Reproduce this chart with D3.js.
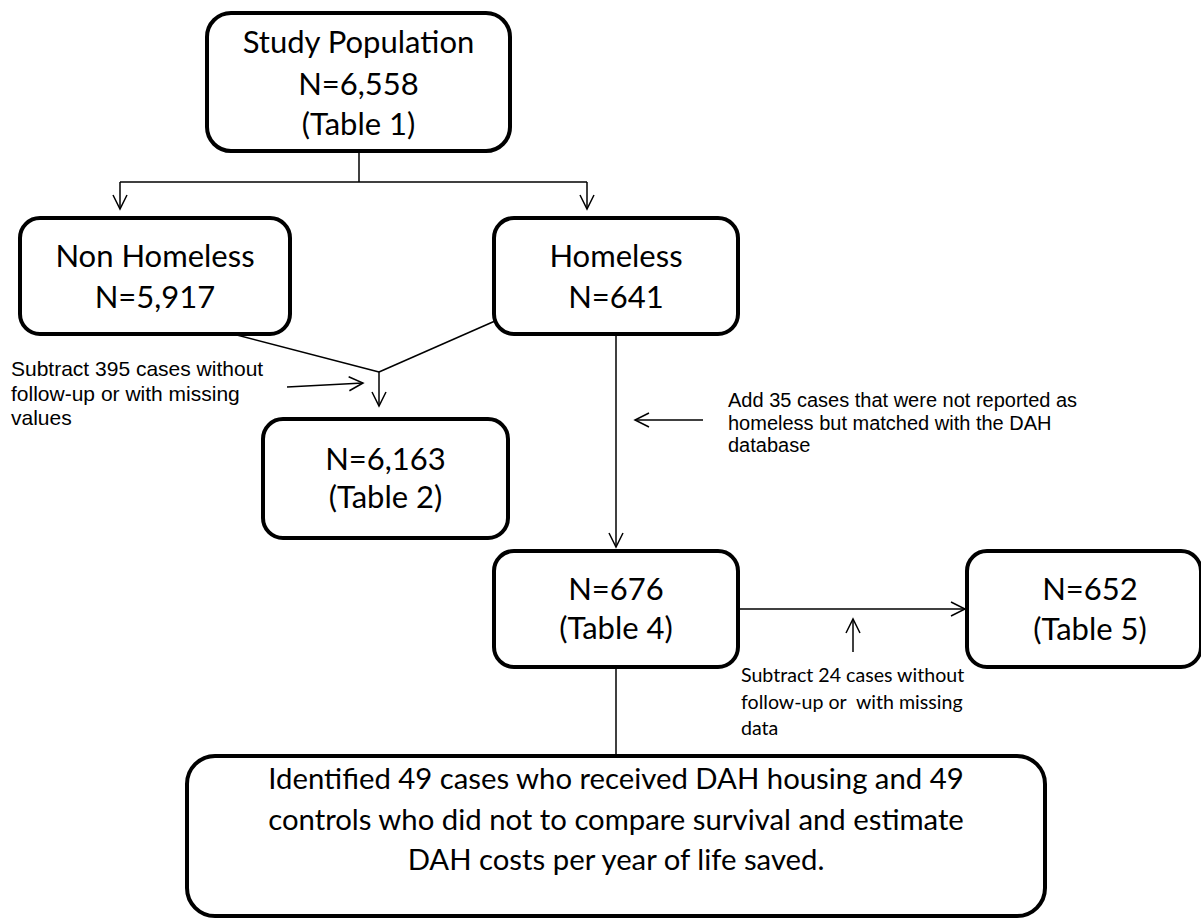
<!DOCTYPE html>
<html lang="en">
<head>
  <meta charset="UTF-8" />
  <title>Study flow chart</title>
  <script src="https://d3js.org/d3.v7.min.js"></script>
  <style>
    body{margin:0;background:#fff}
    svg{display:block}
    .box{fill:#fff;stroke:#000;stroke-width:4}
    .link{fill:none;stroke:#000;stroke-width:1.5}
    .boxtext{font-family:Lato,"Open Sans",sans-serif;fill:#000;text-anchor:middle}
    .note{font-family:"Liberation Sans",Arial,sans-serif;fill:#000;white-space:pre}
    .note2{font-family:Lato,sans-serif;fill:#000;white-space:pre}
  </style>
</head>
<body>
  <div id="chart"></div>
  <script>
    // box labels
    const studyLabel = ["Study Population", "N=6,558", "(Table 1)"];
    const nonHomelessLabel = ["Non Homeless", "N=5,917"];
    const homelessLabel = ["Homeless", "N=641"];
    const table2Label = ["N=6,163", "(Table 2)"];
    const table4Label = ["N=676", "(Table 4)"];
    const table5Label = ["N=652", "(Table 5)"];
    const finalLabel = [
      "Identified 49 cases who received DAH housing and 49",
      "controls who did not to compare survival and estimate",
      "DAH costs per year of life saved."
    ];
    // side notes
    const note395 = ["Subtract 395 cases without", "follow-up or with missing", "values"];
    const note35 = ["Add 35 cases that were not reported as", "homeless but matched with the DAH", "database"];
    const note24 = ["Subtract 24 cases without", "follow-up or  with missing", "data"];

    const W = 1201, H = 920;
    const svg = d3.select("#chart").append("svg").attr("width", W).attr("height", H).attr("viewBox", `0 0 ${W} ${H}`);

    const boxes = [
      {label: studyLabel,       x: 207, y: 13,  w: 303, h: 138, r: 24, size: 31, base: [53, 95, 135]},
      {label: nonHomelessLabel, x: 20,  y: 218, w: 270, h: 116, r: 20, size: 31, base: [267, 308]},
      {label: homelessLabel,    x: 494, y: 218, w: 244, h: 116, r: 20, size: 31, base: [267, 308]},
      {label: table2Label,      x: 263, y: 419, w: 245, h: 119, r: 20, size: 31, base: [470, 508]},
      {label: table4Label,      x: 494, y: 551, w: 244, h: 116, r: 20, size: 31, base: [600, 639]},
      {label: table5Label,      x: 967, y: 551, w: 234, h: 116, r: 20, size: 31, base: [600, 640], tx: 1090},
      {label: finalLabel,       x: 187, y: 756, w: 858, h: 160, r: 28, size: 29.3, base: [789, 830, 870]}
    ];

    // connectors: [points], arrow at the end or not
    const links = [
      {pts: [[359, 151], [359, 182]], arrow: false},
      {pts: [[120, 182], [587, 182]], arrow: false},
      {pts: [[120, 182], [120, 209]], arrow: true},
      {pts: [[587, 182], [587, 209]], arrow: true},
      {pts: [[233, 334], [379, 372]], arrow: false},
      {pts: [[495, 321], [379, 372]], arrow: false},
      {pts: [[379, 372], [379, 406]], arrow: true},
      {pts: [[287, 387], [363, 383]], arrow: true},
      {pts: [[616, 334], [616, 547]], arrow: true},
      {pts: [[703, 420], [635, 420]], arrow: true},
      {pts: [[738, 609], [965, 609]], arrow: true},
      {pts: [[853, 652], [853, 619]], arrow: true},
      {pts: [[616, 667], [616, 756]], arrow: false}
    ];

    const line = d3.line();
    svg.selectAll("path.link").data(links).enter().append("path")
      .attr("class", "link")
      .attr("d", d => line(d.pts));

    // open arrow heads
    const headLen = 14, headHalf = 7;
    svg.selectAll("path.head").data(links.filter(d => d.arrow)).enter().append("path")
      .attr("class", "link head")
      .attr("d", d => {
        const [a, b] = d.pts.slice(-2);
        const ang = Math.atan2(b[1] - a[1], b[0] - a[0]);
        const c = Math.cos(ang), s = Math.sin(ang);
        const p1 = [b[0] - headLen * c + headHalf * s, b[1] - headLen * s - headHalf * c];
        const p2 = [b[0] - headLen * c - headHalf * s, b[1] - headLen * s + headHalf * c];
        return line([p1, b, p2]);
      });

    const g = svg.selectAll("g.node").data(boxes).enter().append("g").attr("class", "node");
    g.append("rect").attr("class", "box")
      .attr("x", d => d.x).attr("y", d => d.y)
      .attr("width", d => d.w).attr("height", d => d.h)
      .attr("rx", d => d.r).attr("ry", d => d.r);
    g.each(function(d) {
      const cx = d.tx ?? d.x + d.w / 2;
      d3.select(this).selectAll("text").data(d.label).enter().append("text")
        .attr("class", "boxtext")
        .attr("x", cx).attr("y", (t, i) => d.base[i])
        .style("font-size", d.size + "px")
        .text(t => t);
    });

    const notes = [
      {lines: note395, x: 11,  size: 21,   base: [376, 400.5, 425], cls: "note"},
      {lines: note35,  x: 728, size: 20,   base: [407, 429.5, 452], cls: "note"},
      {lines: note24,  x: 741, size: 19.6, base: [682, 708.5, 735], cls: "note2"}
    ];
    notes.forEach(n => {
      svg.append("g").selectAll("text").data(n.lines).enter().append("text")
        .attr("class", n.cls)
        .attr("x", n.x).attr("y", (t, i) => n.base[i])
        .style("font-size", n.size + "px")
        .text(t => t);
    });
  </script>
</body>
</html>
